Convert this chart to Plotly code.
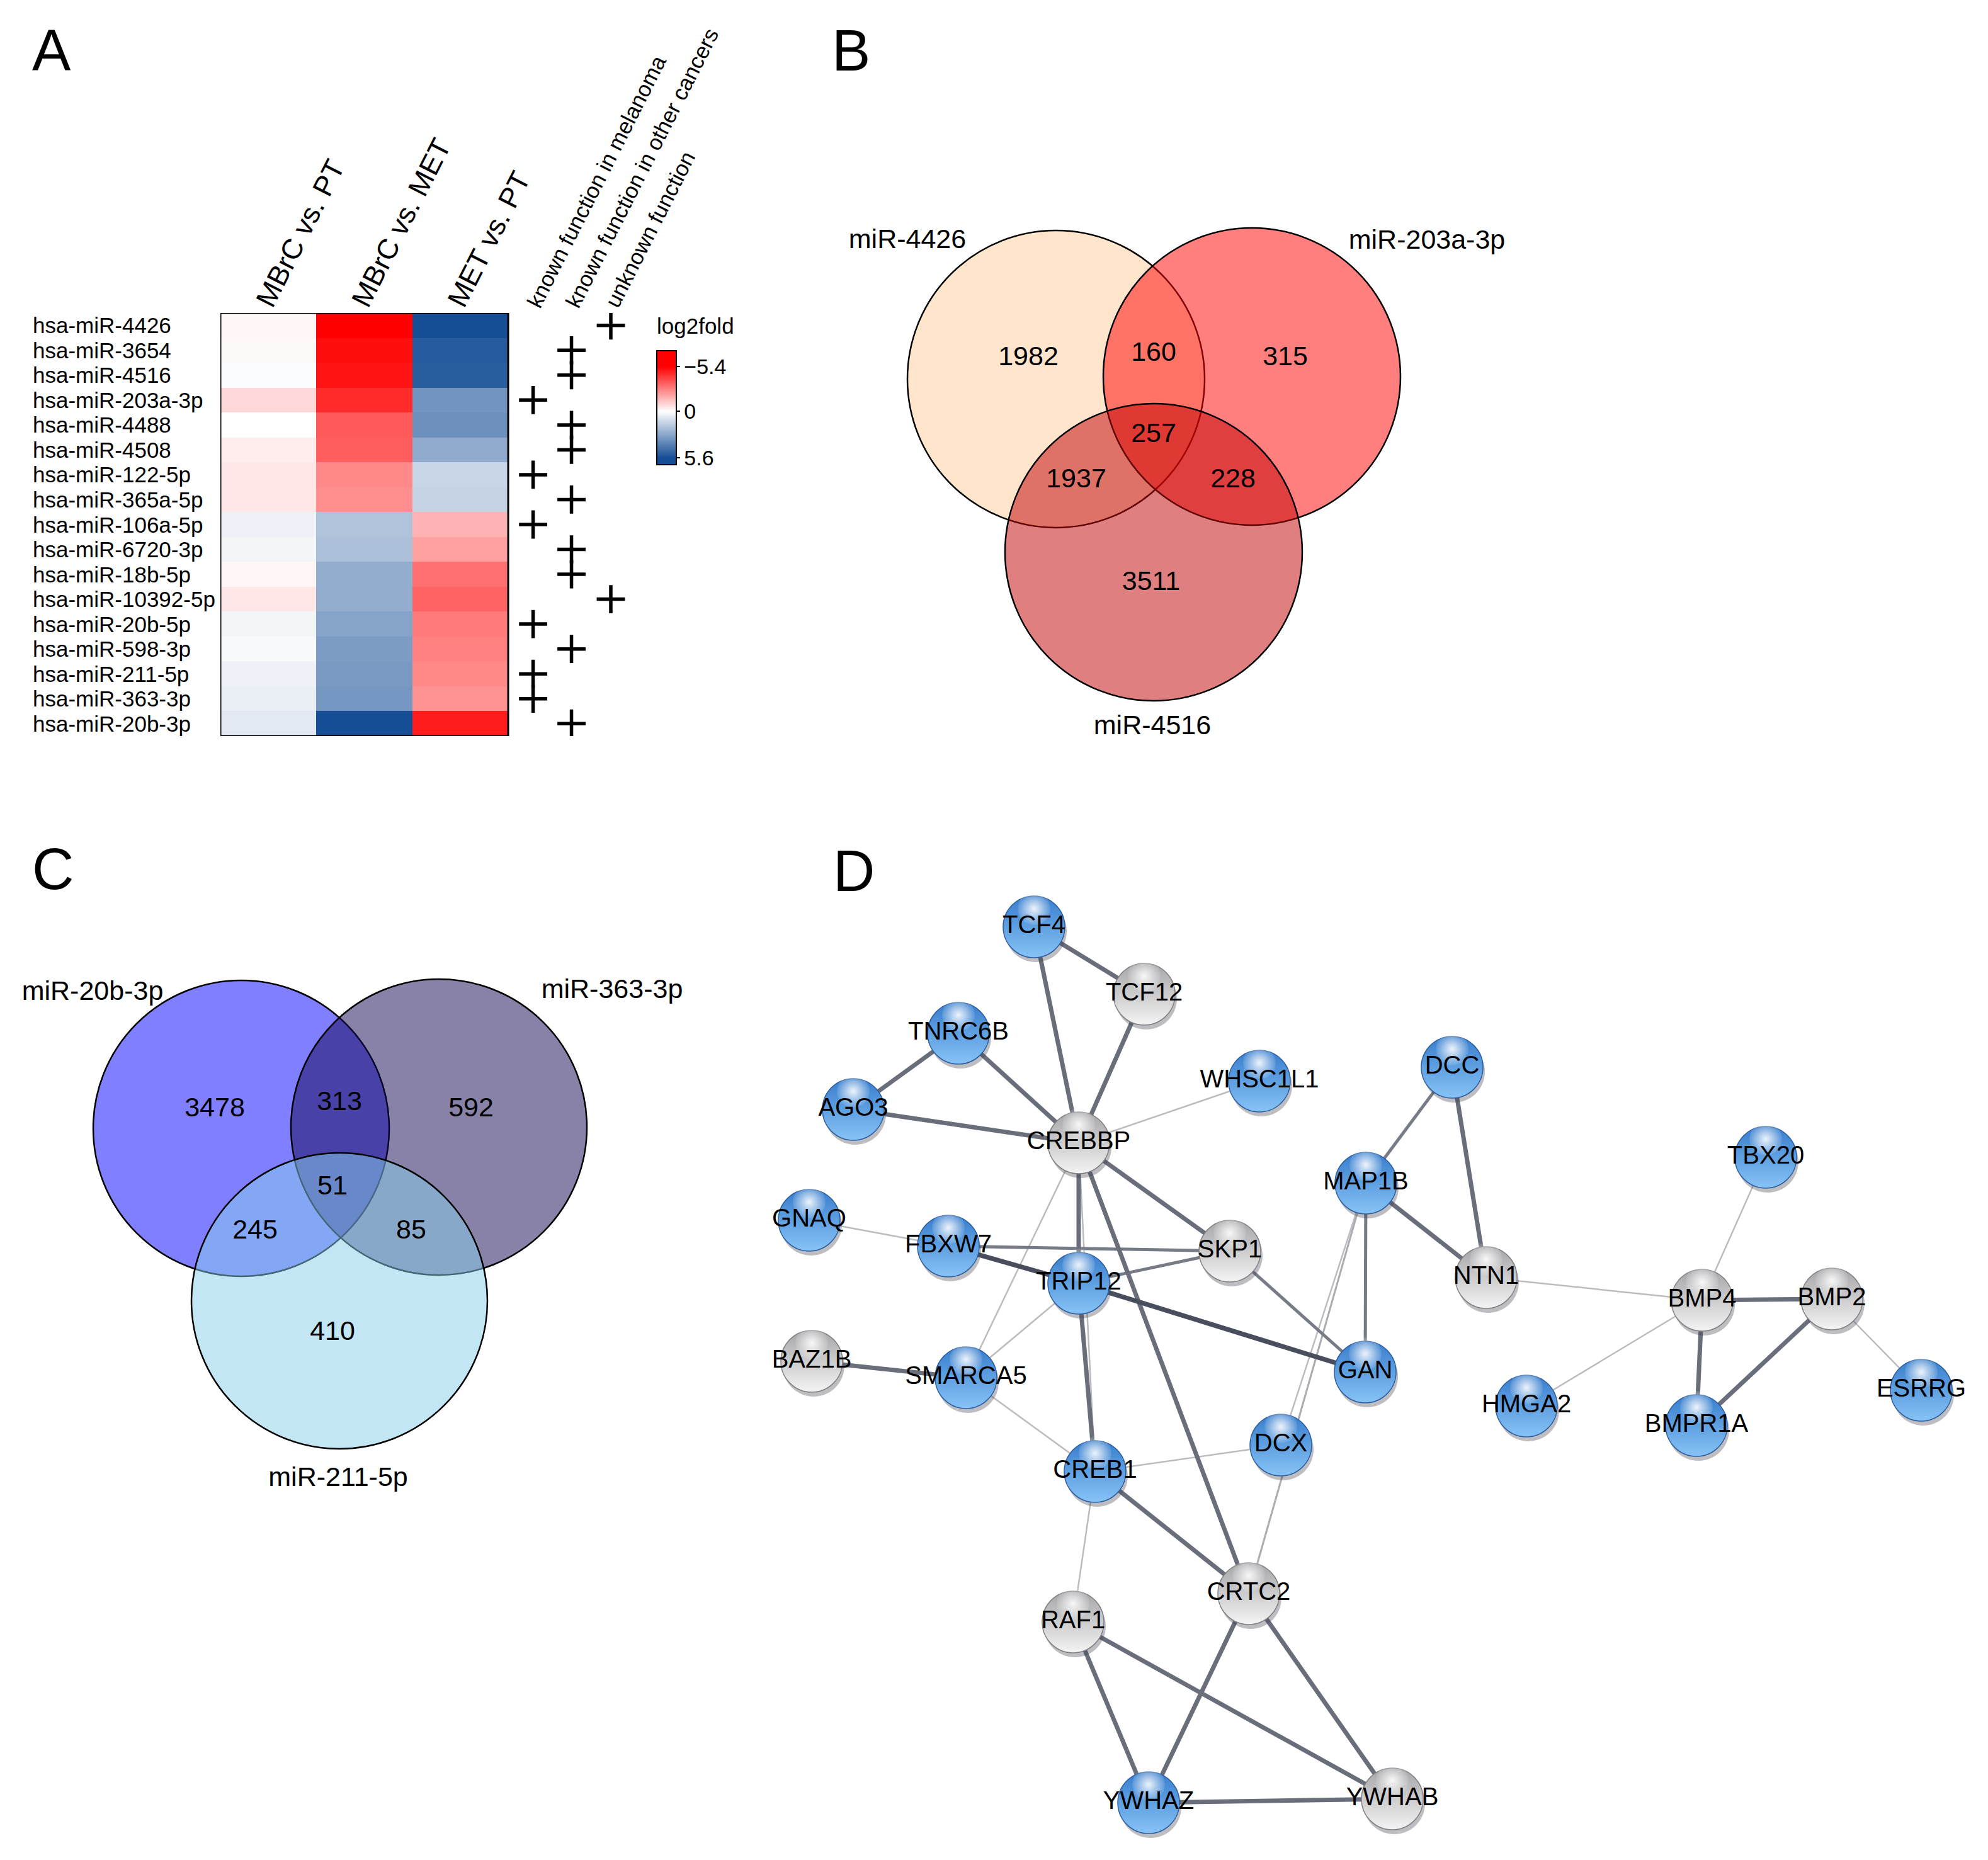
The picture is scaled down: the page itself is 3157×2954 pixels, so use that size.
import plotly.graph_objects as go

W, H = 3157, 2954
FONT = "Liberation Sans, Arial, Helvetica, sans-serif"

# ---------------- Panel A: heatmap data ----------------
mirnas = ["hsa-miR-4426", "hsa-miR-3654", "hsa-miR-4516", "hsa-miR-203a-3p", "hsa-miR-4488",
          "hsa-miR-4508", "hsa-miR-122-5p", "hsa-miR-365a-5p", "hsa-miR-106a-5p", "hsa-miR-6720-3p",
          "hsa-miR-18b-5p", "hsa-miR-10392-5p", "hsa-miR-20b-5p", "hsa-miR-598-3p", "hsa-miR-211-5p",
          "hsa-miR-363-3p", "hsa-miR-20b-3p"]
comparisons = ["MBrC vs. PT", "MBrC vs. MET", "MET vs. PT"]
mbrc_vs_pt = [-0.2, -0.1, 0.1, -0.8, 0.0, -0.4, -0.5, -0.5, 0.4, 0.3, -0.2, -0.5, 0.3, 0.2, 0.4, 0.5, 0.7]
mbrc_vs_met = [-5.4, -5.1, -5.0, -4.5, -3.5, -3.4, -2.5, -2.4, 1.9, 2.0, 2.6, 2.6, 2.9, 3.1, 3.2, 3.3, 5.6]
met_vs_pt = [5.6, 5.2, 5.1, 3.4, 3.5, 2.7, 1.3, 1.4, -1.6, -2.0, -3.0, -3.3, -2.8, -2.7, -2.5, -2.3, -4.8]
function_labels = ["known function in melanoma", "known function in other cancers", "unknown function"]
function_class = [2, 1, 1, 0, 1, 1, 0, 1, 0, 1, 1, 2, 0, 1, 0, 0, 1]
cbar_ticks = [-5.4, 0, 5.6]
cbar_title = "log2fold"

# ---------------- Panel B: Venn data ----------------
venn_b_sets = ["miR-4426", "miR-203a-3p", "miR-4516"]
venn_b_counts = [1982, 160, 315, 257, 1937, 228, 3511]   # A, AB, B, ABC, AC, BC, C

# ---------------- Panel C: Venn data ----------------
venn_c_sets = ["miR-20b-3p", "miR-363-3p", "miR-211-5p"]
venn_c_counts = [3478, 313, 592, 51, 245, 85, 410]       # A, AB, B, ABC, AC, BC, C

# ---------------- Panel D: network data ----------------
node_names = ["TCF4", "TCF12", "TNRC6B", "AGO3", "WHSC1L1", "CREBBP", "GNAQ", "FBXW7", "SKP1",
              "TRIP12", "BAZ1B", "SMARCA5", "MAP1B", "DCC", "NTN1", "GAN", "DCX", "CREB1", "CRTC2",
              "RAF1", "YWHAZ", "YWHAB", "HMGA2", "TBX20", "BMP4", "BMP2", "BMPR1A", "ESRRG"]
node_x = [1642, 1817, 1522, 1355, 2000, 1713, 1285, 1506, 1953, 1713, 1289, 1534, 2169, 2306,
          2360, 2168, 2034, 1739, 1983, 1704, 1824, 2211, 2424, 2804, 2703, 2909, 2694, 3051]
node_y = [1472, 1579, 1641, 1762, 1717, 1815, 1938, 1979, 1987, 2038, 2162, 2188, 1879, 1695,
          2029, 2179, 2295, 2337, 2531, 2576, 2863, 2857, 2233, 1838, 2065, 2063, 2264, 2208]
node_target = [1, 0, 1, 1, 1, 0, 1, 1, 0, 1, 0, 1, 1, 1, 0, 1, 1, 1, 0, 0, 1, 0, 1, 1, 0, 0, 1, 1]
edge_src = ["TCF4", "TCF4", "TCF12", "TNRC6B", "TNRC6B", "AGO3", "WHSC1L1", "CREBBP", "CREBBP",
            "CREBBP", "CREBBP", "CREBBP", "GNAQ", "FBXW7", "FBXW7", "TRIP12", "TRIP12", "SKP1",
            "TRIP12", "BAZ1B", "SMARCA5", "TRIP12", "CREB1", "CREB1", "CREB1", "DCX", "CRTC2",
            "MAP1B", "MAP1B", "MAP1B", "DCC", "NTN1", "TBX20", "BMP4", "BMP4", "BMP4", "BMP2",
            "BMP2", "CRTC2", "CRTC2", "RAF1", "RAF1", "YWHAZ"]
edge_dst = ["TCF12", "CREBBP", "CREBBP", "AGO3", "CREBBP", "CREBBP", "CREBBP", "SKP1", "TRIP12",
            "CRTC2", "SMARCA5", "CREB1", "FBXW7", "SKP1", "TRIP12", "SKP1", "GAN", "GAN",
            "SMARCA5", "SMARCA5", "CREB1", "CREB1", "DCX", "CRTC2", "RAF1", "MAP1B", "MAP1B",
            "DCC", "NTN1", "GAN", "NTN1", "BMP4", "BMP4", "BMP2", "HMGA2", "BMPR1A", "BMPR1A",
            "ESRRG", "YWHAZ", "YWHAB", "YWHAZ", "YWHAB", "YWHAB"]
edge_kind = ["thick", "thick", "thick", "thick", "thick", "thick", "thin", "thick", "thick",
             "thick", "thin", "thin", "thin", "medium", "dark", "medium", "dark", "medium",
             "thin", "thick", "thin", "thick", "thin", "thick", "thin", "thin", "light",
             "medium", "thick", "medium", "thick", "thin", "thin", "thick", "thin", "thick", "thick",
             "thin", "thick", "thick", "thick", "thick", "thick"]

# ---------------- layout geometry (pixels) ----------------
HM_L, HM_R, HM_T, HM_B = 350, 807, 497, 1169
COL_W = (HM_R - HM_L) / 3
ANN_X = [2.76, 3.16, 3.57]
venn_b_cx, venn_b_cy, venn_b_r = [1677, 1988, 1832], [602, 598, 877], 236
venn_b_fill = ["rgba(255,203,153,0.5)", "rgba(255,0,0,0.5)", "rgba(192,0,0,0.5)"]
venn_b_lab_x, venn_b_lab_y = [1441, 2266, 1830], [383, 384, 1155]
venn_b_num_x = [1633, 1832, 2041, 1832, 1709, 1958, 1828]
venn_b_num_y = [569, 562, 569, 691, 763, 763, 926]
venn_c_cx, venn_c_cy, venn_c_r = [383, 697, 539], [1792, 1790, 2066], 235
venn_c_fill = ["rgba(0,0,255,0.5)", "rgba(17,5,81,0.5)", "rgba(135,206,235,0.5)"]
venn_c_lab_x, venn_c_lab_y = [147, 972, 537], [1577, 1574, 2349]
venn_c_num_x = [341, 539, 748, 528, 405, 653, 528]
venn_c_num_y = [1762, 1752, 1762, 1886, 1956, 1956, 2117]


def px(x):
    return x / W


def py(y):
    return 1 - y / H


fig = go.Figure()

# ---------------- Panel A ----------------
zmin, zmax = -6.43, 7.3
span = zmax - zmin
BLUE, RED = "rgb(22,78,150)", "rgb(255,0,0)"
cscale = [[0, BLUE], [(-5.6 - zmin) / span, BLUE], [(0 - zmin) / span, "white"],
          [(5.4 - zmin) / span, RED], [1, RED]]
z = [[-a, -b, -c] for a, b, c in zip(mbrc_vs_pt, mbrc_vs_met, met_vs_pt)]
fig.add_trace(go.Heatmap(
    z=z, x=[0, 1, 2], y=list(range(len(mirnas))), zmin=zmin, zmax=zmax,
    colorscale=cscale, xaxis="x", yaxis="y", hoverinfo="skip",
    colorbar=dict(x=px(1043), xanchor="left", y=py(647.5), yanchor="middle",
                  len=181, lenmode="pixels", thickness=31, thicknessmode="pixels",
                  outlinewidth=2, outlinecolor="black", xpad=0, ypad=0,
                  tickvals=[-t for t in cbar_ticks],
                  ticktext=[f"{t:g}".replace("-", "\u2212") for t in cbar_ticks],
                  ticks="outside", ticklen=5, tickwidth=2, tickcolor="black",
                  tickfont=dict(size=34, family=FONT, color="black"))))
fig.add_trace(go.Scatter(
    x=[ANN_X[c] for c in function_class], y=list(range(len(mirnas))), mode="markers",
    marker=dict(symbol="cross-thin", size=32, line=dict(width=5.5, color="black")),
    xaxis="x", yaxis="y", hoverinfo="skip"))

annotations = []
for i, name in enumerate(mirnas):
    annotations.append(dict(text=name, x=px(50), xref="paper", xanchor="left",
                            y=i, yref="y", yanchor="middle", showarrow=False,
                            font=dict(size=35, family=FONT, color="black")))
for j, name in enumerate(comparisons):
    annotations.append(dict(text=name, x=j, xref="x", xshift=-33, xanchor="left",
                            y=py(498), yref="paper", yanchor="bottom", textangle=-63,
                            showarrow=False, font=dict(size=45, family=FONT, color="black")))
for k, name in enumerate(function_labels):
    annotations.append(dict(text=name, x=ANN_X[k], xref="x", xshift=-20, xanchor="left",
                            y=py(497), yref="paper", yanchor="bottom", textangle=-63,
                            showarrow=False, font=dict(size=35, family=FONT, color="black")))
annotations.append(dict(text=cbar_title, x=px(1041), xref="paper", xanchor="left",
                        y=py(517), yref="paper", yanchor="middle", showarrow=False,
                        font=dict(size=35, family=FONT, color="black")))
for letter, lx, ly in [("A", 82, 80), ("B", 1351, 80), ("C", 84, 1380), ("D", 1356, 1383)]:
    annotations.append(dict(text=letter, x=px(lx), y=py(ly), xref="paper", yref="paper",
                            xanchor="center", yanchor="middle", showarrow=False,
                            font=dict(size=92, family=FONT, color="black")))

shapes = [dict(type="rect", xref="x", yref="y", x0=-0.5, x1=2.5, y0=-0.5, y1=len(mirnas) - 0.5,
               line=dict(color="black", width=3), layer="above")]

# ---------------- Panels B & C: Venn diagrams ----------------
for cx, cy, r, fills in [(venn_b_cx, venn_b_cy, venn_b_r, venn_b_fill),
                         (venn_c_cx, venn_c_cy, venn_c_r, venn_c_fill)]:
    for x0, y0, f in zip(cx, cy, fills):
        shapes.append(dict(type="circle", xref="x2", yref="y2", x0=x0 - r, x1=x0 + r,
                           y0=y0 - r, y1=y0 + r, fillcolor=f,
                           line=dict(color="black", width=2.5), layer="below"))
for nx, ny, counts, lx, ly, sets in [
        (venn_b_num_x, venn_b_num_y, venn_b_counts, venn_b_lab_x, venn_b_lab_y, venn_b_sets),
        (venn_c_num_x, venn_c_num_y, venn_c_counts, venn_c_lab_x, venn_c_lab_y, venn_c_sets)]:
    fig.add_trace(go.Scatter(x=nx, y=ny, text=[str(c) for c in counts], mode="text",
                             textposition="middle center", xaxis="x2", yaxis="y2",
                             textfont=dict(size=43, family=FONT, color="black"), hoverinfo="skip"))
    fig.add_trace(go.Scatter(x=lx, y=ly, text=sets, mode="text", textposition="middle center",
                             xaxis="x2", yaxis="y2",
                             textfont=dict(size=43, family=FONT, color="black"), hoverinfo="skip"))

# ---------------- Panel D: network ----------------
pos = {n: (x, y) for n, x, y in zip(node_names, node_x, node_y)}
EDGE_STYLE = {"thin": ("rgb(188,188,192)", 2.5), "light": ("rgb(170,172,178)", 3),
              "medium": ("rgb(118,123,134)", 5), "thick": ("rgb(105,110,122)", 7),
              "dark": ("rgb(72,78,94)", 7.5)}
for kind in ["thin", "light", "medium", "thick", "dark"]:
    xs, ys = [], []
    for s, d, k in zip(edge_src, edge_dst, edge_kind):
        if k == kind:
            xs += [pos[s][0], pos[d][0], None]
            ys += [pos[s][1], pos[d][1], None]
    col, wid = EDGE_STYLE[kind]
    fig.add_trace(go.Scatter(x=xs, y=ys, mode="lines", line=dict(color=col, width=wid),
                             xaxis="x2", yaxis="y2", hoverinfo="skip"))

NODE_D = 98
NODE_STYLE = {1: ("rgb(55,125,205)", "rgb(135,195,246)", "rgb(45,95,160)"),
              0: ("rgb(165,165,168)", "rgb(244,244,244)", "rgb(128,128,132)")}
fig.add_trace(go.Scatter(x=[x + 3 for x in node_x], y=[y + 7 for y in node_y], mode="markers",
                         xaxis="x2", yaxis="y2",
                         marker=dict(size=NODE_D, color="rgba(70,70,80,0.35)", line=dict(width=0)),
                         hoverinfo="skip"))
for t in [0, 1]:
    idx = [i for i, v in enumerate(node_target) if v == t]
    top, bottom, rim = NODE_STYLE[t]
    fig.add_trace(go.Scatter(
        x=[node_x[i] for i in idx], y=[node_y[i] for i in idx], mode="markers",
        xaxis="x2", yaxis="y2", hoverinfo="skip",
        marker=dict(size=NODE_D, color=top, gradient=dict(type="vertical", color=bottom),
                    line=dict(width=1.5, color=rim))))
fig.add_trace(go.Scatter(x=node_x, y=[y - 29 for y in node_y], mode="markers", xaxis="x2", yaxis="y2",
                         marker=dict(size=52, color="rgba(255,255,255,0.1)",
                                     gradient=dict(type="radial", color="rgba(255,255,255,0.9)"),
                                     line=dict(width=0)), hoverinfo="skip"))
fig.add_trace(go.Scatter(x=node_x, y=node_y, text=node_names, mode="text", textposition="middle center",
                         xaxis="x2", yaxis="y2", textfont=dict(size=40, family=FONT, color="black"),
                         hoverinfo="skip"))

fig.update_layout(
    width=W, height=H, margin=dict(l=0, r=0, t=0, b=0),
    paper_bgcolor="white", plot_bgcolor="rgba(0,0,0,0)", showlegend=False,
    font=dict(family=FONT, color="black"),
    xaxis=dict(domain=[px(HM_L), px(HM_L + 5 * COL_W)], range=[-0.5, 4.5], visible=False,
               fixedrange=True, anchor="y"),
    yaxis=dict(domain=[py(HM_B), py(HM_T)], range=[len(mirnas) - 0.5, -0.5], visible=False,
               fixedrange=True, anchor="x"),
    xaxis2=dict(domain=[0, 1], range=[0, W], visible=False, fixedrange=True, anchor="y2"),
    yaxis2=dict(domain=[0, 1], range=[H, 0], visible=False, fixedrange=True, anchor="x2"),
    annotations=annotations, shapes=shapes)

fig.write_html("out.html", config={"displayModeBar": False},
               post_script="document.body.style.margin='0px';")
